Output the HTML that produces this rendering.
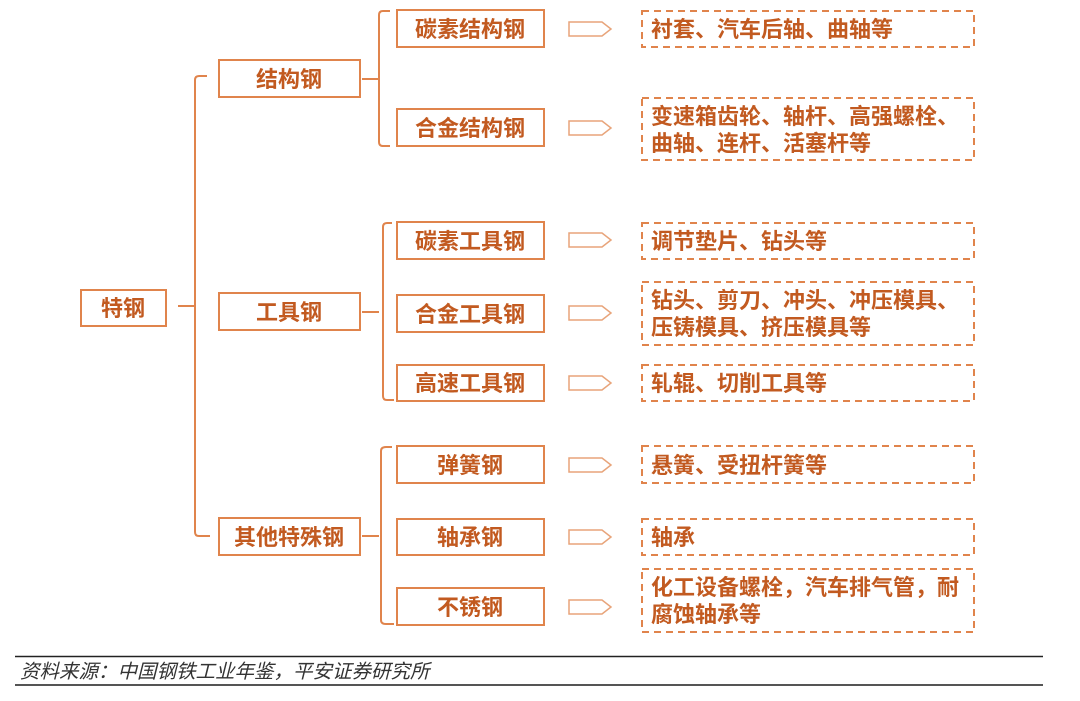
<!DOCTYPE html>
<html><head><meta charset="utf-8"><style>
html,body{margin:0;padding:0;background:#fff;width:1080px;height:701px;overflow:hidden}
svg text{font-family:"Liberation Sans","Noto Sans CJK SC",sans-serif;fill:#c25a20;font-weight:bold}
</style></head><body>
<svg width="1080" height="701" viewBox="0 0 1080 701" xmlns="http://www.w3.org/2000/svg">
<g fill="none" stroke="#e0844c" stroke-width="2">
<rect x="81" y="290" width="85" height="36"/>
<path d="M178 306H195M207 76H199Q195 76 195 80V532Q195 536 199 536H210"/>
<rect x="219" y="60" width="141" height="37"/>
<rect x="219" y="293" width="141" height="37"/>
<rect x="219" y="518" width="141" height="37"/>
<path d="M362 79H378M390 11H383Q379 11 379 15V142Q379 146 383 146H390"/>
<path d="M362 312H379M392 223H387Q383 223 383 227V396Q383 400 387 400H394"/>
<path d="M362 536H379M392 447H386Q381 447 381 451V620Q381 624 386 624H394"/>
<rect x="397" y="10" width="147" height="37"/>
<rect x="397" y="109" width="147" height="37"/>
<rect x="397" y="222" width="147" height="37"/>
<rect x="397" y="295" width="147" height="37"/>
<rect x="397" y="365" width="147" height="36"/>
<rect x="397" y="446" width="147" height="37"/>
<rect x="397" y="519" width="147" height="36"/>
<rect x="397" y="588" width="147" height="37"/>
</g>
<g fill="none" stroke="#e8a47a" stroke-width="1.5">
<path d="M569 22H602L611 29L602 36H569Z"/>
<path d="M569 121H602L611 128L602 135H569Z"/>
<path d="M569 233H602L611 240L602 247H569Z"/>
<path d="M569 306H602L611 313L602 320H569Z"/>
<path d="M569 376H602L611 383L602 390H569Z"/>
<path d="M569 458H602L611 465L602 472H569Z"/>
<path d="M569 530H602L611 537L602 544H569Z"/>
<path d="M569 600H602L611 607L602 614H569Z"/>
</g>
<g fill="none" stroke="#e0844c" stroke-width="2" stroke-dasharray="7,5">
<rect x="642" y="11" width="332" height="36"/>
<rect x="642" y="98" width="332" height="62"/>
<rect x="642" y="223" width="332" height="36"/>
<rect x="642" y="282" width="332" height="63"/>
<rect x="642" y="365" width="332" height="36"/>
<rect x="642" y="446" width="332" height="37"/>
<rect x="642" y="519" width="332" height="36"/>
<rect x="642" y="569" width="332" height="63"/>
</g>
<g font-size="22" text-anchor="middle">
<text x="123" y="316">特钢</text>
<text x="289" y="87">结构钢</text>
<text x="289" y="320">工具钢</text>
<text x="289" y="545">其他特殊钢</text>
<text x="470" y="37">碳素结构钢</text>
<text x="470" y="136">合金结构钢</text>
<text x="470" y="249">碳素工具钢</text>
<text x="470" y="322">合金工具钢</text>
<text x="470" y="391">高速工具钢</text>
<text x="470" y="473">弹簧钢</text>
<text x="470" y="545">轴承钢</text>
<text x="470" y="615">不锈钢</text>
</g>
<g font-size="22">
<text x="651" y="37">衬套、汽车后轴、曲轴等</text>
<text x="651" y="124">变速箱齿轮、轴杆、高强螺栓、</text>
<text x="651" y="151">曲轴、连杆、活塞杆等</text>
<text x="651" y="249">调节垫片、钻头等</text>
<text x="651" y="308">钻头、剪刀、冲头、冲压模具、</text>
<text x="651" y="335">压铸模具、挤压模具等</text>
<text x="651" y="391">轧辊、切削工具等</text>
<text x="651" y="473">悬簧、受扭杆簧等</text>
<text x="651" y="545">轴承</text>
<text x="651" y="595">化工设备螺栓，汽车排气管，耐</text>
<text x="651" y="622">腐蚀轴承等</text>
</g>
<line x1="15" y1="656.5" x2="1043" y2="656.5" stroke="#222" stroke-width="1.5"/>
<line x1="15" y1="685" x2="1043" y2="685" stroke="#555" stroke-width="2"/>
<text x="20" y="678" font-size="19.5" style="fill:#333;font-weight:normal;font-style:italic">资料来源：中国钢铁工业年鉴，平安证券研究所</text>
</svg>
</body></html>
